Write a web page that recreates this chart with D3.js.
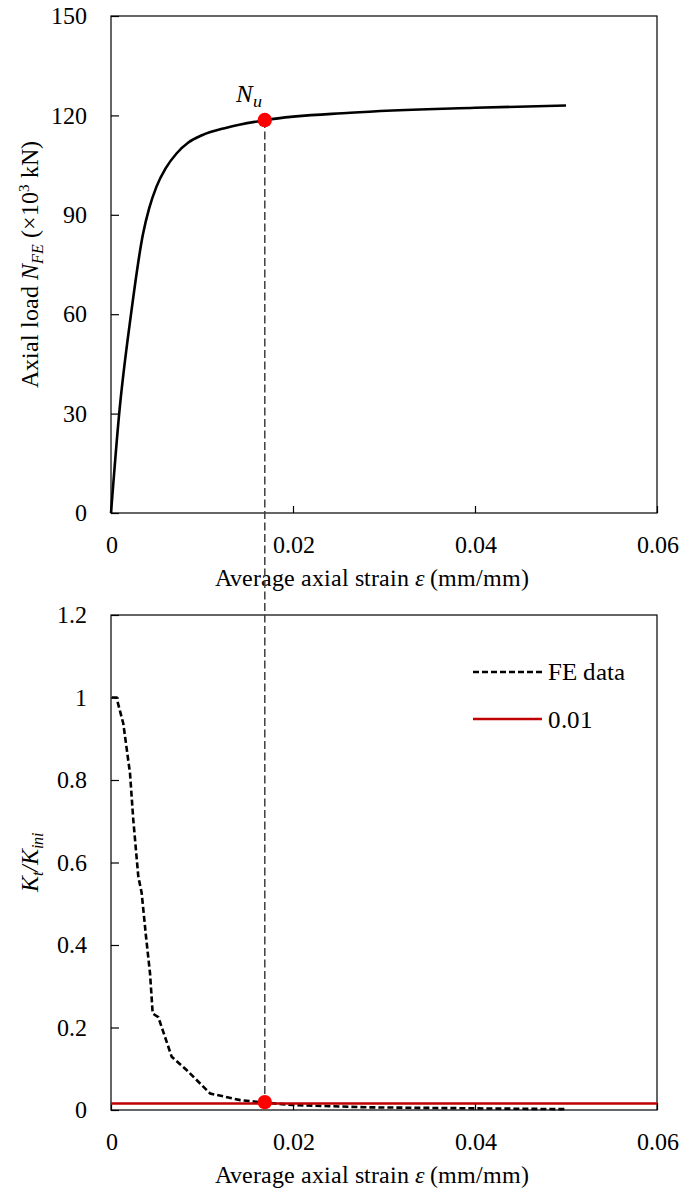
<!DOCTYPE html>
<html><head><meta charset="utf-8">
<script src="https://cdn.jsdelivr.net/npm/d3@7"></script>
<style>
@font-face{font-family:"TNR";font-style:normal;font-weight:400;
  src:local("Liberation Serif"),local("LiberationSerif"),local("LiberationSerif-Regular"),local("Times New Roman"),local("TimesNewRomanPSMT"),local("Tinos"),local("Tinos-Regular"),local("DejaVu Serif"),local("DejaVuSerif"),local("Noto Serif"),local("NotoSerif-Regular");}
@font-face{font-family:"TNR";font-style:italic;font-weight:400;
  src:local("Liberation Serif Italic"),local("LiberationSerif-Italic"),local("Times New Roman Italic"),local("TimesNewRomanPS-ItalicMT"),local("Tinos Italic"),local("Tinos-Italic"),local("DejaVu Serif Italic"),local("DejaVuSerif-Italic"),local("Noto Serif Italic"),local("NotoSerif-Italic");}
body{margin:0;background:#fff}
svg text{font-family:"TNR","Liberation Serif","Times New Roman",serif !important;fill:#000}
</style>
</head><body>
<svg id="c" width="689" height="1197"></svg>
<script>
// ---- data ----
const strainTicks = [0, 0.02, 0.04, 0.06];
const loadTicks = [0, 30, 60, 90, 120, 150];
const ratioTicks = [0, 0.2, 0.4, 0.6, 0.8, 1, 1.2];

const loadStrain = [0, 0.0009, 0.0022, 0.0035, 0.0042, 0.0050, 0.0060, 0.0072, 0.0085, 0.0100, 0.0127, 0.017, 0.0263, 0.04, 0.05];
const loadValues = [0, 30, 60, 84, 92, 98.5, 104, 108.5, 111.8, 114, 116.3, 118.6, 120.8, 122.3, 123];

const feStrain = [0.0001, 0.0006, 0.00135, 0.00209, 0.00245, 0.003, 0.00337, 0.00385, 0.00429, 0.00458, 0.0052, 0.00667, 0.0083, 0.0109, 0.0142, 0.0169, 0.02, 0.0281, 0.04, 0.05];
const feRatio  = [1.0, 1.0, 0.937, 0.816, 0.703, 0.566, 0.526, 0.42, 0.331, 0.234, 0.225, 0.129, 0.097, 0.04, 0.024, 0.018, 0.012, 0.0065, 0.004, 0.002];

const thresholdValue = 0.016;
const thresholdLabel = "0.01";
const ultimateStrain = 0.0169;
const ultimateLoad = 118.6;
const ultimateRatio = 0.019;
const xTitle = "Average axial strain ";

// ---- layout ----
const FONT = '"TNR","Liberation Serif","Times New Roman",serif';
const svg = d3.select("#c").attr("font-family", FONT);
const L = 111, R = 657;
const x = d3.scaleLinear([0, 0.06], [L, R]);
const yTop = d3.scaleLinear([0, 150], [513, 16]);
const yBot = d3.scaleLinear([0, 1.2], [1110, 615]);
const FS = 24;

function frame(y) {
  const [b, t] = y.range();
  svg.append("rect").attr("x", L).attr("y", t).attr("width", R - L).attr("height", b - t)
    .attr("fill", "none").attr("stroke", "#000").attr("stroke-width", 1.2);
}
function axes(y, yTicks) {
  const [b] = y.range();
  const gx = svg.append("g").attr("transform", `translate(0,${b})`)
    .call(d3.axisBottom(x).tickValues(strainTicks).tickFormat(d => String(d)).tickSizeInner(-7).tickSizeOuter(0).tickPadding(23));
  const gy = svg.append("g").attr("transform", `translate(${L},0)`)
    .call(d3.axisLeft(y).tickValues(yTicks).tickFormat(d => String(d)).tickSizeInner(-8).tickSizeOuter(0).tickPadding(24));
  [gx, gy].forEach(g => {
    g.attr("font-family", FONT).attr("font-size", FS);
    g.select(".domain").remove();
    g.selectAll(".tick line").attr("stroke", "#000").attr("stroke-width", 1.2);
    g.selectAll(".tick text").attr("font-size", FS).attr("fill", "#000");
  });
}
function xLabel(yPos) {
  const t = svg.append("text").attr("x", 372).attr("y", yPos).attr("text-anchor", "middle").attr("font-size", FS);
  t.append("tspan").text(xTitle);
  t.append("tspan").attr("font-style", "italic").text("ε");
  t.append("tspan").text(" (mm/mm)");
}

// ---- top chart ----
frame(yTop);
axes(yTop, loadTicks);
xLabel(586);

const yl = svg.append("text").attr("transform", `translate(38,${(16 + 513) / 2}) rotate(-90)`)
  .attr("text-anchor", "middle").attr("font-size", FS);
yl.append("tspan").text("Axial load ");
yl.append("tspan").attr("font-style", "italic").text("N");
yl.append("tspan").attr("font-style", "italic").attr("font-size", 16).attr("dy", 5).text("FE");
yl.append("tspan").attr("dy", -5).text(" (×10");
yl.append("tspan").attr("font-size", 15).attr("dy", -9).text("3");
yl.append("tspan").attr("dy", 9).text(" kN)");

const loadData = loadStrain.map((s, i) => [s, loadValues[i]]);
svg.append("path").datum(loadData)
  .attr("d", d3.line().x(d => x(d[0])).y(d => yTop(d[1])).curve(d3.curveMonotoneX))
  .attr("fill", "none").attr("stroke", "#000").attr("stroke-width", 2.6);

// ---- bottom chart ----
frame(yBot);
axes(yBot, ratioTicks);
xLabel(1183);

const kl = svg.append("text").attr("transform", `translate(38,${(615 + 1110) / 2}) rotate(-90)`)
  .attr("text-anchor", "middle").attr("font-size", FS).attr("font-style", "italic");
kl.append("tspan").text("K");
kl.append("tspan").attr("font-size", 16).attr("dy", 5).text("t");
kl.append("tspan").attr("dy", -5).text("/K");
kl.append("tspan").attr("font-size", 16).attr("dy", 5).text("ini");

const feData = feStrain.map((s, i) => [s, feRatio[i]]);
svg.append("path").datum(feData)
  .attr("d", d3.line().x(d => x(d[0])).y(d => yBot(d[1])))
  .attr("fill", "none").attr("stroke", "#000").attr("stroke-width", 2.6).attr("stroke-dasharray", "6,3");

svg.append("line").attr("x1", x(0)).attr("x2", x(0.06))
  .attr("y1", yBot(thresholdValue)).attr("y2", yBot(thresholdValue))
  .attr("stroke", "#C00000").attr("stroke-width", 2.5);

// legend
const lg = svg.append("g");
lg.append("line").attr("x1", 473).attr("x2", 542).attr("y1", 672).attr("y2", 672)
  .attr("stroke", "#000").attr("stroke-width", 2.6).attr("stroke-dasharray", "6,3");
lg.append("text").attr("x", 548).attr("y", 680).attr("font-size", 25).text("FE data");
lg.append("line").attr("x1", 473).attr("x2", 542).attr("y1", 719).attr("y2", 719)
  .attr("stroke", "#C00000").attr("stroke-width", 2.5);
lg.append("text").attr("x", 548).attr("y", 728).attr("font-size", 25).text(thresholdLabel);

// ---- connecting dashed line and markers ----
svg.append("line").attr("x1", x(ultimateStrain)).attr("x2", x(ultimateStrain))
  .attr("y1", yTop(ultimateLoad)).attr("y2", yBot(ultimateRatio))
  .attr("stroke", "#404040").attr("stroke-width", 1.5).attr("stroke-dasharray", "8,3.5");
svg.append("circle").attr("cx", x(ultimateStrain)).attr("cy", yTop(ultimateLoad)).attr("r", 7.2).attr("fill", "#FF0000");
svg.append("circle").attr("cx", x(ultimateStrain)).attr("cy", yBot(ultimateRatio)).attr("r", 7.2).attr("fill", "#FF0000");

const nu = svg.append("text").attr("x", 236).attr("y", 102).attr("font-size", 25).attr("font-style", "italic");
nu.append("tspan").text("N");
nu.append("tspan").attr("font-size", 18).attr("dy", 5).text("u");
</script>
</body></html>
